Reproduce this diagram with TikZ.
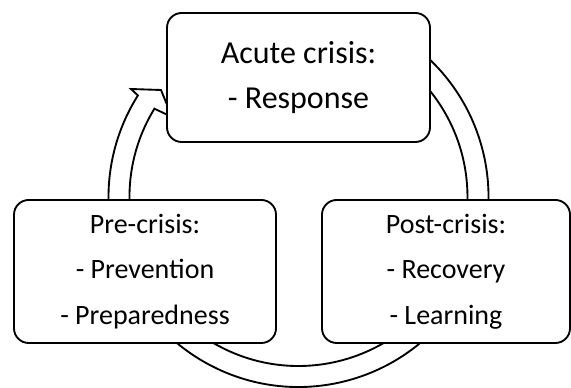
\documentclass[tikz,border=0pt]{standalone}
\usepackage{fontspec}
\setmainfont{Carlito}
\usetikzlibrary{calc}
\begin{document}
\begin{tikzpicture}[x=0.75pt,y=0.75pt,line width=1.4pt,
  phase/.style={draw,rounded corners=11pt,fill=white,align=center,inner sep=0pt,
    minimum height=107.25pt,font=\fontsize{21}{34}\selectfont},
  ring/.style={draw,fill=white,line join=miter}]
\useasboundingbox (0,0) rectangle (571,388);
\coordinate (c) at (298.5,191);
% cycle arrow, drawn first so the boxes cover it
\draw[ring] ($(c)+(60:142.5pt)$) arc[start angle=60,end angle=-212.3,radius=142.5pt]
  -- (131,299) -- (161,298) -- (172,271) -- ($(c)+(-211.5:126.75pt)$)
  arc[start angle=-211.5,end angle=60,radius=126.75pt] -- cycle;
\node[phase,minimum width=197.25pt,minimum height=96.75pt,font=\fontsize{24}{34}\selectfont]
  (acute) at (298.5,310.5) {Acute crisis:\\- Response};
\node[phase,minimum width=196.5pt] (pre) at (145,116.5) {Pre-crisis:\\- Prevention\\- Preparedness};
\node[phase,minimum width=186pt] (post) at (446,116.5) {Post-crisis:\\- Recovery\\- Learning};
\end{tikzpicture}
\end{document}
